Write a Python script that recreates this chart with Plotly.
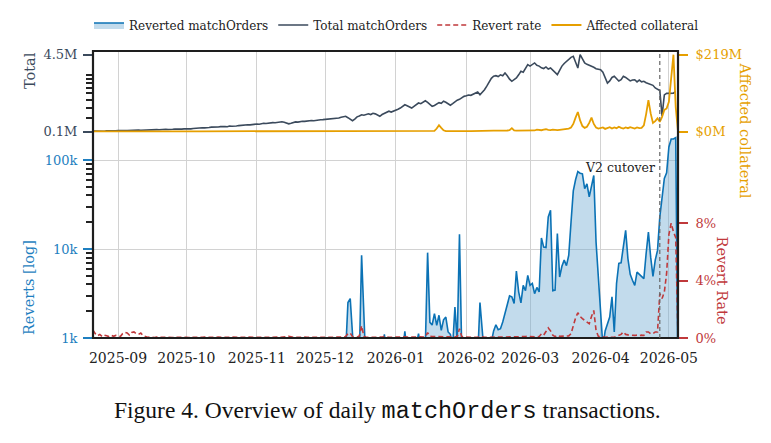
import math
import pandas as pd
import plotly.graph_objects as go

# ---------------- data (daily, 2025-08-21 .. 2026-05-05) ----------------
start_date = "2025-08-21"
cutover_date = "2026-04-27"

# Total matchOrders per day (millions)
total_aug = [0.14,0.13,0.14,0.15,0.14,0.13,0.15,0.14,0.15,0.16,0.15]
total_sep = [0.16,0.15,0.17,0.16,0.17,0.18,0.17,0.16,0.18,0.19,
             0.18,0.19,0.20,0.19,0.20,0.21,0.20,0.22,0.21,0.23,
             0.22,0.24,0.23,0.22,0.24,0.25,0.24,0.23,0.25,0.26]
total_oct = [0.25,0.27,0.26,0.28,0.30,0.29,0.31,0.33,0.32,0.35,
             0.34,0.36,0.35,0.38,0.37,0.39,0.41,0.40,0.38,0.42,
             0.41,0.44,0.43,0.45,0.47,0.46,0.48,0.50,0.49,0.52,
             0.51]
total_nov = [0.54,0.53,0.56,0.58,0.57,0.60,0.59,0.62,0.61,0.63,
             0.65,0.67,0.64,0.60,0.55,0.58,0.62,0.66,0.65,0.68,
             0.70,0.69,0.72,0.71,0.74,0.73,0.76,0.75,0.78,0.79]
total_dec = [0.80,0.83,0.82,0.86,0.84,0.87,0.88,0.93,0.96,0.98,
             0.90,0.80,0.73,0.82,0.95,1.00,1.07,1.04,1.10,1.12,
             1.08,1.15,1.12,1.05,0.98,1.08,1.15,1.20,1.27,1.22,
             1.27]
total_jan = [1.30,1.38,1.45,1.55,1.64,1.58,1.50,1.45,1.55,1.66,
             1.74,1.70,1.80,1.87,1.78,1.65,1.55,1.60,1.70,1.76,
             1.72,1.84,1.78,1.70,1.61,1.70,1.82,1.90,1.95,2.05,
             2.12]
total_feb = [2.15,2.20,2.18,2.25,2.30,2.37,2.21,2.35,2.50,2.70,
             2.95,3.15,3.27,3.30,3.25,3.35,3.30,3.45,3.30,3.10,
             2.98,3.10,3.17,3.35,3.55,3.50,3.70,3.93]
total_mar = [3.85,3.95,4.03,3.90,3.85,3.75,3.71,3.80,3.68,3.74,
             3.60,3.50,3.36,3.60,3.85,4.00,4.12,4.25,4.35,4.41,
             4.10,3.74,4.50,4.30,4.03,3.95,3.90,3.84,3.78,3.70,
             3.68]
total_apr = [3.64,3.50,3.20,2.88,3.00,3.20,3.27,3.15,3.00,3.07,
             3.27,3.20,3.10,3.00,3.05,3.07,2.95,3.05,2.95,2.98,
             2.90,2.85,2.79,2.75,2.60,2.50,2.45,1.00,2.20,2.29]
total_may = [2.30,2.28,2.30,2.41,None]

# Affected collateral per day ($M)
coll_aug = [0.8,0.9,0.8,0.8,0.9,0.8,0.8,0.9,0.8,0.8,0.9]
coll_sep = [0.9,0.8,0.9,1.0,0.9,0.8,0.9,1.0,0.9,0.9,
            1.0,0.9,0.8,0.9,1.0,0.9,0.9,1.0,0.9,1.0,
            0.9,0.9,1.0,0.9,1.0,1.0,0.9,1.0,0.9,1.0]
coll_oct = [1.0,1.1,1.0,0.9,1.0,1.1,1.0,1.0,1.1,1.0,
            1.1,1.2,1.0,1.1,1.0,1.1,1.2,1.1,1.0,1.1,
            1.2,1.1,1.0,1.1,1.2,1.1,1.1,1.2,1.0,1.1,
            1.2]
coll_nov = [1.1,1.2,1.1,1.2,1.3,1.1,1.2,1.1,1.2,1.3,
            1.2,1.1,1.2,1.3,1.2,1.1,1.2,1.3,1.2,1.2,
            1.3,1.2,1.1,1.3,1.2,1.3,1.2,1.3,1.2,1.3]
coll_dec = [1.3,1.2,1.3,1.4,1.3,1.2,1.4,1.3,1.4,1.5,
            1.4,1.3,1.2,1.4,1.5,1.4,1.3,1.4,1.5,1.4,
            1.3,1.4,1.5,1.4,1.3,1.4,1.5,1.4,1.5,1.4,
            1.5]
coll_jan = [1.5,1.4,1.6,1.5,1.4,1.6,1.5,1.6,1.5,1.4,
            1.6,1.5,1.7,1.6,1.5,1.6,1.7,2.5,9.0,18.5,
            11.0,4.0,1.8,1.6,1.7,1.8,1.6,1.7,1.8,1.7,
            1.8]
coll_feb = [1.8,1.7,1.9,1.8,1.7,1.9,1.8,2.0,1.9,1.8,
            2.0,2.2,2.8,3.0,2.6,3.2,2.9,3.1,3.4,4.5,
            10.0,3.5,3.0,3.3,2.8,3.4,3.6,3.2]
coll_mar = [4.0,5.0,3.5,6.0,5.0,4.2,6.0,7.0,5.2,4.5,
            6.0,5.0,4.3,5.2,6.0,8.0,7.0,9.0,12.0,22.0,
            40.0,56.0,32.0,16.0,11.0,14.0,25.0,40.0,22.0,12.0,
            9.0]
coll_apr = [10.0,12.0,8.0,11.0,13.0,9.0,12.0,10.0,14.0,11.0,
            9.0,12.0,10.0,13.0,11.0,9.0,12.0,10.0,11.0,18.0,
            50.0,90.0,52.0,25.0,30.0,38.0,28.0,42.0,62.0,66.0]
coll_may = [85.0,165.0,219.0,70.0,0.0]

# Reverted matchOrders per day (thousands)
rev_aug = [0.3,0.25,0.2,0.3,0.2,0.25,0.3,0.2,0.2,0.3,0.25]
rev_sep = [0.25,0.3,0.35,0.3,0.25,0.3,0.35,0.4,0.3,0.25,
           0.3,0.2,0.2,0.25,0.2,0.15,0.2,0.2,0.15,0.2,
           0.2,0.15,0.2,0.2,0.15,0.2,0.15,0.2,0.2,0.15]
rev_oct = [0.2,0.15,0.2,0.2,0.25,0.2,0.15,0.2,0.2,0.25,
           0.2,0.2,0.15,0.2,0.25,0.2,0.2,0.15,0.2,0.2,
           0.25,0.2,0.2,0.25,0.2,0.2,0.25,0.2,0.25,0.2,
           0.25]
rev_nov = [0.25,0.2,0.25,0.3,0.25,0.2,0.25,0.3,0.25,0.25,
           0.3,0.25,0.3,0.35,0.4,0.3,0.25,0.3,0.3,0.25,
           0.3,0.35,0.3,0.3,0.35,0.3,0.3,0.35,0.3,0.35]
rev_dec = [0.3,0.35,0.3,0.4,0.35,0.3,0.35,0.4,0.45,0.7,
           2.5,2.77,0.7,0.45,0.4,0.6,8.5,0.6,0.4,0.35,
           0.4,0.45,0.4,0.35,0.4,0.45,1.1,0.5,0.4,0.45,
           0.5]
rev_jan = [0.5,0.6,0.5,0.7,1.19,0.7,0.6,0.5,0.6,0.8,
           1.12,0.8,0.6,0.8,9.1,1.5,1.4,1.88,1.39,1.8,
           1.22,1.6,1.72,1.17,1.1,0.8,2.23,0.9,14.6,0.7,
           0.5]
rev_feb = [0.4,0.35,0.4,0.5,0.45,0.6,2.5,1.2,0.6,0.5,
           0.7,0.9,1.2,1.41,1.24,1.27,1.51,1.9,2.44,2.97,
           2.9,2.44,5.66,3.3,2.48,3.9,3.4,5.06]
rev_mar = [3.9,4.1,3.15,3.7,3.3,13.3,10.5,10.4,22.9,27.2,
           3.4,3.45,14.9,4.85,6.4,7.5,6.5,8.5,20.0,45.0,
           60.0,74.0,71.0,70.0,47.6,54.0,38.5,50.0,67.0,12.0,
           4.5]
rev_apr = [2.0,0.8,1.2,1.4,1.72,2.9,1.17,4.1,6.9,7.0,
           10.5,16.2,7.8,5.2,4.45,3.9,5.5,5.2,5.0,4.65,
           8.9,15.5,8.1,4.93,7.5,9.65,22.8,40.0,62.0,72.0]
rev_may = [140.0,172.0,172.0,178.0,0.3]

# Revert rate per day (%)
rate_aug = [0.55,0.3,0.15,0.25,0.1,0.2,0.15,0.1,0.2,0.12,0.18]
rate_sep = [0.15,0.1,0.3,0.4,0.35,0.2,0.38,0.42,0.3,0.25,
            0.35,0.15,0.1,0.05,0.08,0.05,0.04,0.06,0.05,0.04,
            0.05,0.06,0.04,0.05,0.04,0.05,0.06,0.05,0.04,0.05]
rate_oct = [0.05,0.04,0.05,0.06,0.05,0.04,0.05,0.05,0.06,0.05,
            0.04,0.05,0.05,0.04,0.06,0.05,0.05,0.04,0.05,0.05,
            0.06,0.05,0.04,0.05,0.05,0.04,0.05,0.06,0.05,0.04,
            0.05]
rate_nov = [0.05,0.04,0.05,0.05,0.06,0.05,0.04,0.05,0.05,0.06,
            0.05,0.05,0.06,0.08,0.12,0.07,0.05,0.05,0.04,0.05,
            0.05,0.06,0.05,0.05,0.04,0.05,0.05,0.06,0.05,0.05]
rate_dec = [0.05,0.05,0.04,0.05,0.05,0.04,0.05,0.05,0.06,0.1,
            0.3,0.35,0.1,0.06,0.05,0.15,0.85,0.12,0.05,0.05,
            0.05,0.06,0.05,0.05,0.05,0.06,0.12,0.06,0.05,0.05,
            0.06]
rate_jan = [0.05,0.06,0.05,0.06,0.08,0.06,0.05,0.05,0.06,0.06,
            0.08,0.06,0.06,0.07,0.38,0.12,0.1,0.1,0.09,0.1,
            0.08,0.09,0.1,0.08,0.07,0.06,0.1,0.08,0.65,0.1,
            0.06]
rate_feb = [0.05,0.05,0.05,0.06,0.05,0.05,0.12,0.06,0.05,0.05,
            0.05,0.05,0.05,0.06,0.05,0.06,0.06,0.07,0.08,0.08,
            0.1,0.09,0.08,0.09,0.1,0.09,0.1,0.12]
rate_mar = [0.1,0.1,0.08,0.1,0.09,0.3,0.2,0.45,0.7,0.5,
            0.2,0.1,0.2,0.12,0.12,0.15,0.12,0.15,0.3,0.9,
            1.4,1.76,1.5,1.35,1.23,1.1,1.0,1.5,1.92,0.53,
            0.12]
rate_apr = [0.1,0.05,0.05,0.06,0.06,0.1,0.05,0.12,0.2,0.25,
            0.42,0.25,0.22,0.2,0.15,0.18,0.2,0.17,0.2,0.18,
            0.42,0.42,0.3,0.3,0.42,0.42,3.1,2.75,3.2,4.5]
rate_may = [7.2,8.0,7.4,7.0,0.0]

# tick labels
month_tick_format = "%Y-%m"
total_tickvals = [0.1, 4.5]
total_ticktext = ["0.1M", "4.5M"]
coll_tickvals = [0, 219]
coll_ticktext = ["$0M", "$219M"]
rev_tickvals = [1, 10, 100]
rev_ticktext = ["1k", "10k", "100k"]
rate_tickvals = [0, 4, 8]
rate_ticktext = ["0%", "4%", "8%"]

total_m = total_aug + total_sep + total_oct + total_nov + total_dec + total_jan + total_feb + total_mar + total_apr + total_may
collateral_m = coll_aug + coll_sep + coll_oct + coll_nov + coll_dec + coll_jan + coll_feb + coll_mar + coll_apr + coll_may
reverted_k = rev_aug + rev_sep + rev_oct + rev_nov + rev_dec + rev_jan + rev_feb + rev_mar + rev_apr + rev_may
rate_pct = rate_aug + rate_sep + rate_oct + rate_nov + rate_dec + rate_jan + rate_feb + rate_mar + rate_apr + rate_may
n = len(total_m)
assert n == 258, n
assert len(collateral_m) == n and len(reverted_k) == n and len(rate_pct) == n, (len(collateral_m), len(reverted_k), len(rate_pct))
dates = pd.date_range(start_date, periods=n, freq="D")

# ---------------- style ----------------
SERIF = "DejaVu Serif"
SLATE = "#3b4a5c"
BLUE = "#0b72b5"
BLUE_TXT = "#1f7fc0"
ORANGE = "#e69f00"
RED = "#c0393b"
GRID = "#d2d2d2"
FRAME = "#1e1e1e"

W, H = 771, 443
L, R, T, B = 93, 678.5, 51, 338
pw, ph = R - L, B - T


def fx(px):
    return (px - L) / pw


def fy(py):
    return (B - py) / ph


split_px = 135
split = fy(split_px)

# top panel: 0.1M at y=131.7, 4.5M at y=54.7 (linear)
m_per_px = 4.4 / 77.0
total_range = [0.1 - (split_px - 131.7) * m_per_px, 4.5 + (54.7 - T) * m_per_px]
c_per_px = 219 / 77.0
coll_range = [-(split_px - 131.7) * c_per_px, 219 + (54.7 - T) * c_per_px]
rev_range = [0, (B - split_px) / 89.0]
rate_range = [0, (B - split_px) / 14.35]
total_minor = [0.1 + d * m_per_px for d in (13.4, 24, 31.7, 38.4, 44, 48.4, 52.7, 57)]
rev_minor = [k * 10 ** e for e in (0, 1) for k in range(2, 10)]

fig = go.Figure()
fig.add_trace(go.Scatter(
    x=dates, y=reverted_k, name="Reverted matchOrders", xaxis="x", yaxis="y3",
    mode="lines", line=dict(color=BLUE, width=1.6), fill="tozeroy",
    fillcolor="rgba(110,170,210,0.42)"))
fig.add_trace(go.Scatter(
    x=dates, y=total_m, name="Total matchOrders", xaxis="x", yaxis="y",
    mode="lines", line=dict(color=SLATE, width=1.6)))
fig.add_trace(go.Scatter(
    x=dates, y=rate_pct, name="Revert rate", xaxis="x", yaxis="y4",
    mode="lines", line=dict(color=RED, width=1.6, dash="5px,3px")))
fig.add_trace(go.Scatter(
    x=dates, y=collateral_m, name="Affected collateral", xaxis="x", yaxis="y2",
    mode="lines", line=dict(color=ORANGE, width=1.8)))

axis_common = dict(showline=False, zeroline=False, fixedrange=True)

fig.update_layout(
    width=W, height=H,
    margin=dict(l=L, r=W - R, t=T, b=H - B, pad=0, autoexpand=False),
    paper_bgcolor="white", plot_bgcolor="white",
    font=dict(family=SERIF, size=13, color="#222"),
    legend=dict(orientation="h", x=fx(89), xanchor="left", y=fy(25), yanchor="middle",
                font=dict(family=SERIF, size=12, color="#222"),
                bgcolor="rgba(0,0,0,0)", itemwidth=30, traceorder="normal"),
    xaxis=dict(type="date", anchor="y3", domain=[0, 1],
               range=[dates[0], dates[-1]],
               tickformat=month_tick_format, dtick="M1", tick0="2025-09-01",
               ticks="outside", ticklen=7, tickcolor="rgba(0,0,0,0)",
               tickfont=dict(family=SERIF, size=14, color="#222"),
               showgrid=True, gridcolor=GRID, gridwidth=1, **axis_common),
    yaxis=dict(domain=[split, 1], anchor="x", range=total_range,
               tickmode="array", tickvals=total_tickvals, ticktext=total_ticktext,
               ticks="outside", ticklen=9, tickwidth=2.2, tickcolor=SLATE,
               ticklabelstandoff=3,
               tickfont=dict(family=SERIF, size=13, color=SLATE), showgrid=False,
               minor=dict(tickmode="array", tickvals=total_minor, ticks="outside",
                          ticklen=6, tickwidth=1.5, tickcolor="#222", showgrid=False),
               **axis_common),
    yaxis2=dict(overlaying="y", side="right", anchor="x", range=coll_range,
                tickmode="array", tickvals=coll_tickvals, ticktext=coll_ticktext,
                ticks="outside", ticklen=9, tickwidth=2.2, tickcolor=ORANGE,
                ticklabelstandoff=5,
                tickfont=dict(family=SERIF, size=13, color=ORANGE), showgrid=False,
                **axis_common),
    yaxis3=dict(domain=[0, split], anchor="x", type="log", range=rev_range,
                tickmode="array", tickvals=rev_tickvals, ticktext=rev_ticktext,
                ticks="outside", ticklen=9, tickwidth=2.2, tickcolor=BLUE_TXT,
                ticklabelstandoff=3,
                tickfont=dict(family=SERIF, size=13, color=BLUE_TXT),
                showgrid=True, gridcolor=GRID, gridwidth=1,
                minor=dict(tickmode="array", tickvals=rev_minor, ticks="outside",
                           ticklen=6, tickwidth=1.5, tickcolor="#222", showgrid=False),
                **axis_common),
    yaxis4=dict(overlaying="y3", side="right", anchor="x", range=rate_range,
                tickmode="array", tickvals=rate_tickvals, ticktext=rate_ticktext,
                ticks="outside", ticklen=9, tickwidth=2.2, tickcolor=RED,
                ticklabelstandoff=5,
                tickfont=dict(family=SERIF, size=13, color=RED), showgrid=False,
                **axis_common),
)

# frame and cutover marker
fig.add_shape(type="rect", xref="paper", yref="paper", x0=0, x1=1, y0=0, y1=1,
              line=dict(color=FRAME, width=2.2), layer="above")
fig.add_shape(type="line", xref="x", yref="paper", x0=cutover_date, x1=cutover_date,
              y0=0, y1=1, line=dict(color="#666", width=1.2, dash="4px,3px"), layer="above")

annotations = [
    dict(text="V2 cutover", x=fx(657), y=fy(167), xanchor="right", yanchor="middle",
         font=dict(family=SERIF, size=12.5, color="#222")),
    dict(text="Total", x=fx(30), y=fy(71), textangle=-90, xanchor="center", yanchor="middle",
         font=dict(family=SERIF, size=14.5, color=SLATE)),
    dict(text="Reverts [log]", x=fx(29), y=fy(288), textangle=-90, xanchor="center", yanchor="middle",
         font=dict(family=SERIF, size=14.5, color=BLUE_TXT)),
    dict(text="Affected collateral", x=fx(746), y=fy(131), textangle=90, xanchor="center", yanchor="middle",
         font=dict(family=SERIF, size=14.5, color=ORANGE)),
    dict(text="Revert Rate", x=fx(723), y=fy(281), textangle=90, xanchor="center", yanchor="middle",
         font=dict(family=SERIF, size=14.5, color=RED)),
    dict(text='Figure 4. Overview of daily <span style="font-family:\'Liberation Mono\'">matchOrders</span> transactions.',
         x=fx(388), y=fy(411), xanchor="center", yanchor="middle",
         font=dict(family="Liberation Serif", size=23.5, color="#111")),
]
for a in annotations:
    a.update(xref="paper", yref="paper", showarrow=False)
    fig.add_annotation(**a)

fig.write_html("out.html")
